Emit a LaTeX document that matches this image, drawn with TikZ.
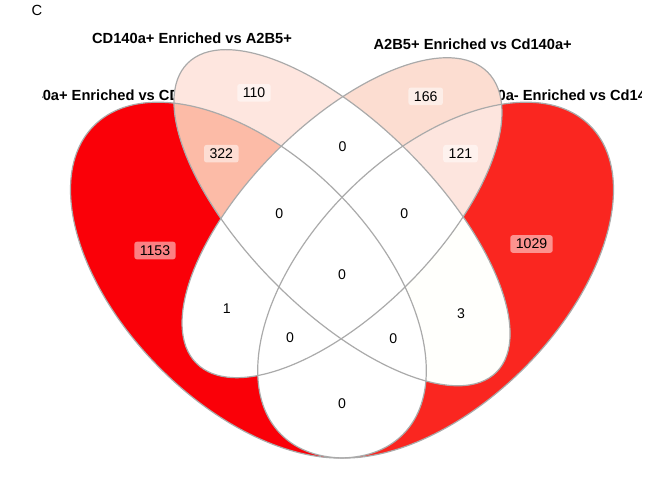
\documentclass[tikz,border=0pt]{standalone}
\usepackage{fontspec}
\setmainfont{Liberation Sans}
\definecolor{regA}{RGB}{250,0,8}
\definecolor{regB}{RGB}{254,230,223}
\definecolor{regC}{RGB}{252,221,209}
\definecolor{regD}{RGB}{250,38,32}
\definecolor{regAB}{RGB}{252,187,167}
\definecolor{regCD}{RGB}{253,229,222}
\definecolor{regBD}{RGB}{255,255,252}
\definecolor{rimgray}{RGB}{170,170,170}
\begin{document}
\begin{tikzpicture}[x=1pt,y=-1pt,
  setA/.style={rotate around={135:(248.4,280.1)}},
  setB/.style={rotate around={135:(342,217.7)}},
  setC/.style={rotate around={45:(342,217.7)}},
  setD/.style={rotate around={45:(435.6,280.1)}},
  rim/.style={draw=rimgray, line width=1.2pt},
  count/.style={fill=white, fill opacity=0.5, text opacity=1, rounded corners=2.5pt,
    inner xsep=5.5pt, inner ysep=3.8pt, font=\fontsize{14.1}{16}\selectfont},
  setname/.style={inner sep=0pt, font=\fontsize{14.67}{17}\selectfont\bfseries}]
  \useasboundingbox (0,0) rectangle (672,480);
  \node[inner sep=0pt, font=\fontsize{14.7}{17}\selectfont] (tag) at (37,10.5) {C};
  % outer set names, cut by the panel and by the fills
  \begin{scope}
    \clip (42,0) rectangle (641,480);
    \node[setname] (nameA) at (111.5,95.5) {CD140a+ Enriched vs CD140a-};
    \node[setname] (nameD) at (565.5,95.5) {CD140a- Enriched vs Cd140a+};
  \end{scope}
  % regions
  \fill[setA, regA] (248.4,280.1) ellipse [x radius=218.4, y radius=124.8];
  \fill[setD, regD] (435.6,280.1) ellipse [x radius=218.4, y radius=124.8];
  \fill[setB, regB] (342,217.7) ellipse [x radius=218.4, y radius=93.6];
  \fill[setC, regC] (342,217.7) ellipse [x radius=205.9, y radius=93.6];
  \begin{scope}
    \clip[setA] (248.4,280.1) ellipse [x radius=218.4, y radius=124.8];
    \fill[setB, regAB] (342,217.7) ellipse [x radius=218.4, y radius=93.6];
  \end{scope}
  \begin{scope}
    \clip[setC] (342,217.7) ellipse [x radius=205.9, y radius=93.6];
    \fill[setD, regCD] (435.6,280.1) ellipse [x radius=218.4, y radius=124.8];
  \end{scope}
  \begin{scope}
    \clip[setB] (342,217.7) ellipse [x radius=218.4, y radius=93.6];
    \fill[setD, regBD] (435.6,280.1) ellipse [x radius=218.4, y radius=124.8];
  \end{scope}
  \begin{scope}
    \clip[setA] (248.4,280.1) ellipse [x radius=218.4, y radius=124.8];
    \fill[setC, white] (342,217.7) ellipse [x radius=205.9, y radius=93.6];
    \fill[setD, white] (435.6,280.1) ellipse [x radius=218.4, y radius=124.8];
  \end{scope}
  \begin{scope}
    \clip[setB] (342,217.7) ellipse [x radius=218.4, y radius=93.6];
    \fill[setC, white] (342,217.7) ellipse [x radius=205.9, y radius=93.6];
  \end{scope}
  % outlines
  \draw[setA, rim] (248.4,280.1) ellipse [x radius=218.4, y radius=124.8];
  \draw[setB, rim] (342,217.7) ellipse [x radius=218.4, y radius=93.6];
  \draw[setC, rim] (342,217.7) ellipse [x radius=205.9, y radius=93.6];
  \draw[setD, rim] (435.6,280.1) ellipse [x radius=218.4, y radius=124.8];
  \node[setname] (nameB) at (192,37.8) {CD140a+ Enriched vs A2B5+};
  \node[setname] (nameC) at (472.7,44.3) {A2B5+ Enriched vs Cd140a+};
  % counts
  \node[count] (nA) at (155,250.5) {1153};
  \node[count] (nB) at (254,92.8) {110};
  \node[count] (nC) at (425.7,96.3) {166};
  \node[count] (nD) at (531.5,244) {1029};
  \node[count] (nAB) at (221.3,153.7) {322};
  \node[count] (nCD) at (460.5,153.7) {121};
  \node[count] (nBC) at (342.5,147) {0};
  \node[count] (nABC) at (279.3,213.3) {0};
  \node[count] (nBCD) at (404.3,213.3) {0};
  \node[count] (nABCD) at (342,275) {0};
  \node[count] (nAC) at (226.7,309) {1};
  \node[count] (nBD) at (461,314) {3};
  \node[count] (nACD) at (290,337.3) {0};
  \node[count] (nABD) at (393.3,339) {0};
  \node[count] (nAD) at (342,404) {0};
\end{tikzpicture}
\end{document}
